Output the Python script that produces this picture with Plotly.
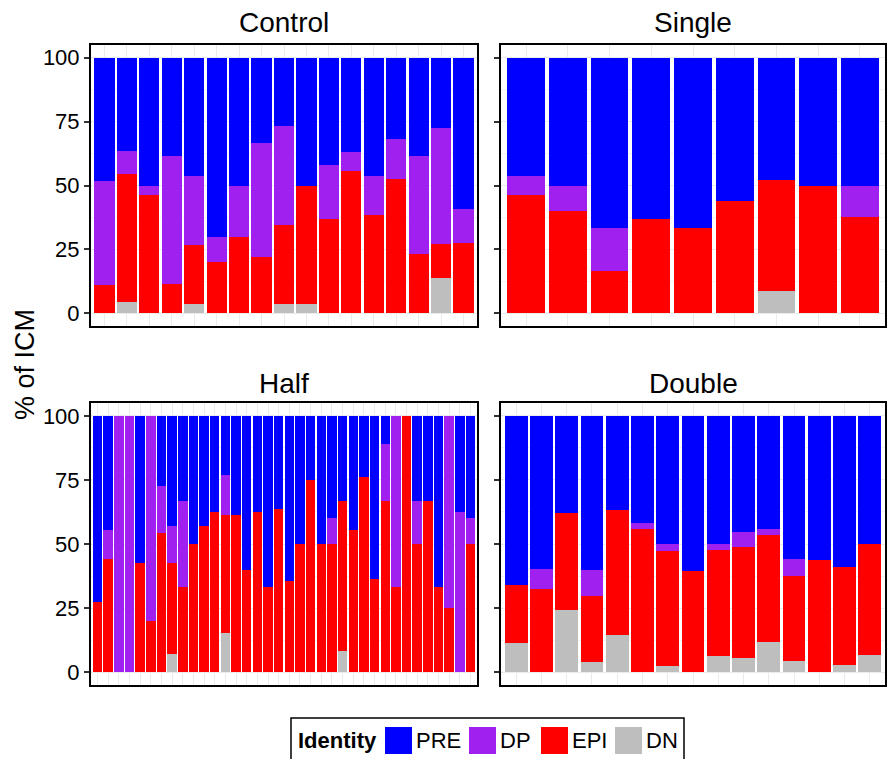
import plotly.graph_objects as go

W, H = 887, 759

# ---------------- data ----------------
identities = ["PRE", "DP", "EPI", "DN"]
colors = {"PRE": "#0000FF", "DP": "#A020F0", "EPI": "#FF0000", "DN": "#BEBEBE"}
panels = ["Control", "Single", "Half", "Double"]
y_ticks = [0, 25, 50, 75, 100]

control_DN = [0, 4.5, 0, 0, 3.8, 0, 0, 0, 3.8, 3.8, 0, 0, 0, 0, 0, 13.6, 0]
control_EPI = [11.1, 50.0, 46.2, 11.5, 23.1, 20.0, 30.0, 22.2, 30.8, 46.2, 36.8, 55.6, 38.5, 52.6, 23.1, 13.6, 27.3]
control_DP = [40.7, 9.1, 3.8, 50.0, 26.9, 10.0, 20.0, 44.4, 38.5, 0, 21.1, 7.4, 15.4, 15.8, 38.5, 45.5, 13.6]
control_PRE = [48.2, 36.4, 50.0, 38.5, 46.2, 70.0, 50.0, 33.4, 26.9, 50.0, 42.1, 37.0, 46.1, 31.6, 38.4, 27.3, 59.1]

single_DN = [0, 0, 0, 0, 0, 0, 8.7, 0, 0]
single_EPI = [46.2, 40.0, 16.7, 36.7, 33.3, 44.0, 43.5, 50.0, 37.5]
single_DP = [7.7, 10.0, 16.6, 0, 0, 0, 0, 0, 12.5]
single_PRE = [46.1, 50.0, 66.7, 63.3, 66.7, 56.0, 47.8, 50.0, 50.0]

half_DN = [0, 0, 0, 0, 0, 0, 0, 6.9, 0, 0, 0, 0, 15.4, 0, 0, 0, 0, 0,
           0, 0, 0, 0, 0, 8.3, 0, 0, 0, 0, 0, 0, 0, 0, 0, 0, 0, 0]
half_EPI = [27.4, 44.1, 0, 0, 42.5, 20.0, 54.2, 35.6, 33.3, 50.0, 57.1, 62.5, 46.1, 61.5, 40.0, 62.5, 33.3, 63.6,
            35.5, 50.0, 75.0, 50.0, 50.0, 58.3, 55.6, 76.2, 36.4, 66.7, 33.3, 100, 50.0, 66.7, 33.3, 25.0, 0, 50.0]
half_DP = [0, 11.3, 100, 100, 0, 80.0, 18.4, 14.5, 33.3, 0, 0, 0, 15.4, 0, 0, 0, 0, 0,
           0, 0, 0, 0, 10.0, 0, 0, 0, 0, 22.2, 66.7, 0, 16.7, 0, 0, 75.0, 62.5, 10.0]
half_PRE = [72.6, 44.6, 0, 0, 57.5, 0, 27.4, 43.0, 33.4, 50.0, 42.9, 37.5, 23.1, 38.5, 60.0, 37.5, 66.7, 36.4,
            64.5, 50.0, 25.0, 50.0, 40.0, 33.4, 44.4, 23.8, 63.6, 11.1, 0, 0, 33.3, 33.3, 66.7, 0, 37.5, 40.0]

double_DN = [11.3, 0, 24.2, 3.9, 14.4, 0, 2.3, 0, 6.2, 5.5, 11.7, 4.3, 0, 2.7, 6.6]
double_EPI = [22.6, 32.4, 37.8, 25.7, 48.8, 55.8, 44.9, 39.4, 41.4, 43.3, 41.7, 33.2, 43.7, 38.3, 43.3]
double_DP = [0, 7.8, 0, 10.2, 0, 2.3, 2.7, 0, 2.3, 5.8, 2.4, 6.6, 0, 0, 0]
double_PRE = [66.1, 59.8, 38.0, 60.2, 36.8, 41.9, 50.1, 60.6, 50.1, 45.4, 44.2, 55.9, 56.3, 59.0, 50.1]

data = {
    "Control": {"DN": control_DN, "EPI": control_EPI, "DP": control_DP, "PRE": control_PRE},
    "Single": {"DN": single_DN, "EPI": single_EPI, "DP": single_DP, "PRE": single_PRE},
    "Half": {"DN": half_DN, "EPI": half_EPI, "DP": half_DP, "PRE": half_PRE},
    "Double": {"DN": double_DN, "EPI": double_EPI, "DP": double_DP, "PRE": double_PRE},
}

# ---------------- layout helpers ----------------
def px_x(v):
    return v / W


def px_y(v):
    return 1 - v / H


FONT = "Liberation Sans, Arial, Helvetica, sans-serif"

# panel pixel boxes in window coordinates: (left, right, top, bottom)
boxes = {
    "Control": (91, 477, 45, 326),
    "Single": (501, 885, 45, 326),
    "Half": (91, 477, 403, 685),
    "Double": (501, 885, 403, 685),
}
title_y = {"Control": 23, "Single": 23, "Half": 383, "Double": 383}

fig = go.Figure()
layout = dict(
    width=W, height=H,
    margin=dict(l=0, r=0, t=0, b=0),
    paper_bgcolor="white", plot_bgcolor="white",
    barmode="stack", bargap=0.1,
    showlegend=False,
    font=dict(family=FONT, color="black", size=22),
)

annotations = []
shapes = []

for i, p in enumerate(panels):
    idx = "" if i == 0 else str(i + 1)
    xa, ya = "x" + idx, "y" + idx
    n = len(data[p]["PRE"])
    xs = list(range(1, n + 1))
    for ident in ["DN", "EPI", "DP", "PRE"]:
        fig.add_trace(go.Bar(
            x=xs, y=data[p][ident], name=ident,
            marker=dict(color=colors[ident], line=dict(width=0)),
            xaxis=xa, yaxis=ya, showlegend=False,
            hovertemplate=p + " " + ident + ": %{y}<extra></extra>",
        ))
    l, r, t, b = boxes[p]
    left_col = p in ("Control", "Half")
    layout["xaxis" + idx] = dict(
        domain=[px_x(l), px_x(r)], anchor=ya,
        range=[0.4, n + 0.6], tickvals=xs, showticklabels=False, ticks="",
        showgrid=True, gridcolor="#EBEBEB", gridwidth=1,
        showline=True, mirror=True, linecolor="black", linewidth=2,
        zeroline=False, fixedrange=True,
    )
    layout["yaxis" + idx] = dict(
        domain=[px_y(b), px_y(t)], anchor=xa,
        range=[-5, 105], tickvals=y_ticks, showticklabels=left_col,
        ticks="outside", ticklen=5, tickwidth=1.5, tickcolor="#333333",
        tickfont=dict(size=22, color="black", family=FONT),
        showgrid=True, gridcolor="#EBEBEB", gridwidth=1,
        minor=dict(tickvals=[12.5, 37.5, 62.5, 87.5], showgrid=True,
                   gridcolor="#F2F2F2", gridwidth=0.7, ticks=""),
        showline=True, mirror=True, linecolor="black", linewidth=2,
        zeroline=False, fixedrange=True,
    )
    annotations.append(dict(
        x=px_x((l + r) / 2), y=px_y(title_y[p]), xref="paper", yref="paper",
        text=p, showarrow=False, xanchor="center", yanchor="middle",
        font=dict(size=28, color="black", family=FONT),
    ))

# y-axis title
annotations.append(dict(
    x=px_x(25), y=px_y(365), xref="paper", yref="paper", text="% of ICM",
    textangle=-90, showarrow=False, xanchor="center", yanchor="middle",
    font=dict(size=27, color="black", family=FONT),
))

# manual legend
shapes.append(dict(type="rect", xref="paper", yref="paper",
                   x0=px_x(291), x1=px_x(684), y0=px_y(768), y1=px_y(718),
                   line=dict(color="black", width=1.5), fillcolor="white", layer="below"))
annotations.append(dict(
    x=px_x(296), y=px_y(740), xref="paper", yref="paper", text="<b>Identity</b>",
    showarrow=False, xanchor="left", yanchor="middle",
    font=dict(size=22, color="black", family=FONT),
))
key_left = {"PRE": 385, "DP": 469, "EPI": 541, "DN": 615}
for ident in identities:
    kx = key_left[ident]
    shapes.append(dict(type="rect", xref="paper", yref="paper",
                       x0=px_x(kx), x1=px_x(kx + 27), y0=px_y(754), y1=px_y(727),
                       line=dict(width=0), fillcolor=colors[ident]))
    annotations.append(dict(
        x=px_x(kx + 29), y=px_y(740), xref="paper", yref="paper", text=ident,
        showarrow=False, xanchor="left", yanchor="middle",
        font=dict(size=22, color="black", family=FONT),
    ))

layout["annotations"] = annotations
layout["shapes"] = shapes
fig.update_layout(**layout)

# remove the default page margin so the 887x759 figure fills the window exactly
fig.write_html(
    "out.html",
    config={"displayModeBar": False},
    post_script="document.body.style.margin='0';document.body.style.overflow='hidden';",
)
